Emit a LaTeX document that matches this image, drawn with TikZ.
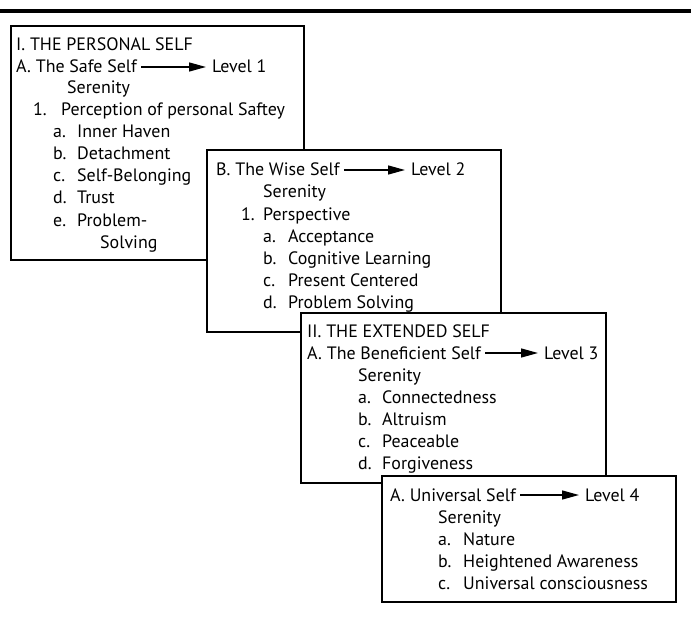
\documentclass[tikz,border=0pt]{standalone}
\usepackage{fontspec}
\setmainfont{PT Sans}
\usetikzlibrary{arrows.meta}
\begin{document}
\begin{tikzpicture}[x=1bp,y=-1bp,
  panel/.style={draw=black, fill=white, line width=2.4bp, anchor=north west, inner sep=0pt, outer sep=0pt},
  txt/.style={anchor=base west, inner sep=0pt, font=\fontsize{18}{21}\selectfont},
  lvl/.style={-{Triangle[length=17bp,width=9bp]}, line width=1.4bp, shorten <=4bp, shorten >=6bp}
]
\useasboundingbox (0,0) rectangle (691,637);
\fill (0,9) rectangle (691,13.5);
% Box 1
\node[panel, minimum width=293bp, minimum height=234bp] (box1) at (11,26) {};
\node[txt] (p1) at (16,51) {I. THE PERSONAL SELF};
\node[txt] (s1) at (16,73) {A. The Safe Self};
\node[txt] (l1) at (212,73) {Level 1};
\draw[lvl] (s1.east |- 0,67) -- (l1.west |- 0,67);
\node[txt] (sr1) at (67,94) {Serenity};
\node[txt] (n1) at (33,116) {1.};
\node[txt] (n1t) at (61,116) {Perception of personal Saftey};
\node[txt] (a1) at (53,138) {a.};
\node[txt] (a1t) at (77,138) {Inner Haven};
\node[txt] (b1) at (53,160) {b.};
\node[txt] (b1t) at (77,160) {Detachment};
\node[txt] (c1) at (53,182) {c.};
\node[txt] (c1t) at (77,182) {Self-Belonging};
\node[txt] (d1) at (53,204) {d.};
\node[txt] (d1t) at (77,204) {Trust};
\node[txt] (e1) at (53,226) {e.};
\node[txt] (e1t) at (77,226) {Problem-};
\node[txt] (e1u) at (100,248) {Solving};
% Box 2
\node[panel, minimum width=294bp, minimum height=182bp] (box2) at (207,150) {};
\node[txt] (s2) at (216,176) {B. The Wise Self};
\node[txt] (l2) at (411,176) {Level 2};
\draw[lvl] (s2.east |- 0,170) -- (l2.west |- 0,170);
\node[txt] (sr2) at (263,198) {Serenity};
\node[txt] (n2) at (241,220) {1.};
\node[txt] (n2t) at (263,220) {Perspective};
\node[txt] (a2) at (263,242) {a.};
\node[txt] (a2t) at (288,242) {Acceptance};
\node[txt] (b2) at (263,264) {b.};
\node[txt] (b2t) at (288,264) {Cognitive Learning};
\node[txt] (c2) at (263,286) {c.};
\node[txt] (c2t) at (288,286) {Present Centered};
\node[txt] (d2) at (263,308) {d.};
\node[txt] (d2t) at (288,308) {Problem Solving};
% Box 3
\node[panel, minimum width=305bp, minimum height=170bp] (box3) at (301,313) {};
\node[txt] (p3) at (307,337) {II. THE EXTENDED SELF};
\node[txt] (s3) at (307,359) {A. The Beneficient Self};
\node[txt] (l3) at (544,359) {Level 3};
\draw[lvl] (s3.east |- 0,353) -- (l3.west |- 0,353);
\node[txt] (sr3) at (358,381) {Serenity};
\node[txt] (a3) at (358,403) {a.};
\node[txt] (a3t) at (382,403) {Connectedness};
\node[txt] (b3) at (358,425) {b.};
\node[txt] (b3t) at (382,425) {Altruism};
\node[txt] (c3) at (358,447) {c.};
\node[txt] (c3t) at (382,447) {Peaceable};
\node[txt] (d3) at (358,469) {d.};
\node[txt] (d3t) at (382,469) {Forgiveness};
% Box 4
\node[panel, minimum width=294bp, minimum height=126bp] (box4) at (382,476) {};
\node[txt] (s4) at (390,501) {A. Universal Self};
\node[txt] (l4) at (585,501) {Level 4};
\draw[lvl] (s4.east |- 0,495) -- (l4.west |- 0,495);
\node[txt] (sr4) at (438,523) {Serenity};
\node[txt] (a4) at (438,545) {a.};
\node[txt] (a4t) at (463,545) {Nature};
\node[txt] (b4) at (438,567) {b.};
\node[txt] (b4t) at (463,567) {Heightened Awareness};
\node[txt] (c4) at (438,589) {c.};
\node[txt] (c4t) at (463,589) {Universal consciousness};
\end{tikzpicture}
\end{document}
